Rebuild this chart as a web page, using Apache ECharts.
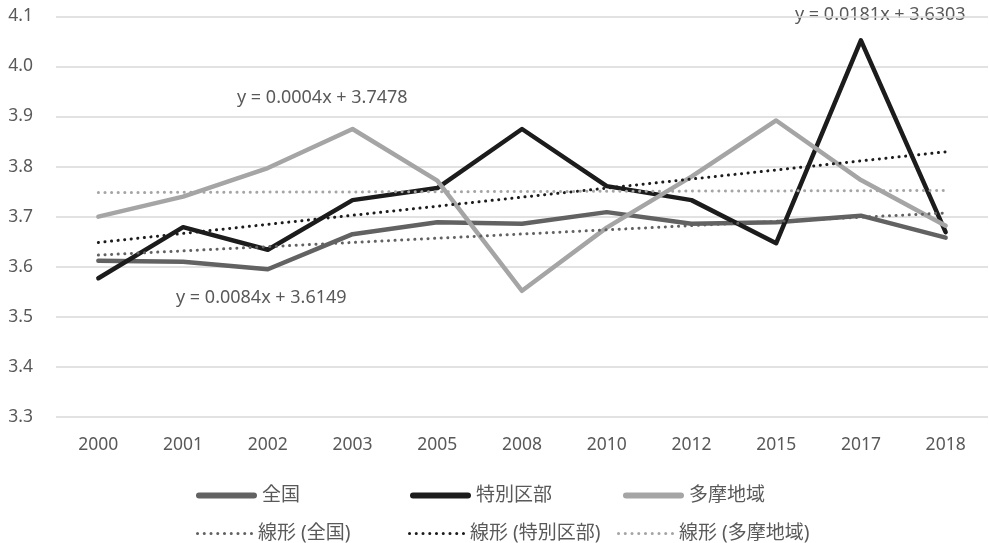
<!DOCTYPE html>
<html>
<head>
<meta charset="utf-8">
<script src="https://cdn.jsdelivr.net/npm/echarts@6/dist/echarts.min.js"></script>
<style>
  html, body { margin: 0; padding: 0; background: #fff; }
  #chart { width: 989px; height: 543px; }
</style>
</head>
<body>
<div id="chart"></div>
<script>
// Survey years (category axis)
const years = ['2000', '2001', '2002', '2003', '2005', '2008', '2010', '2012', '2015', '2017', '2018'];

// Values by region
const zenkoku = [3.612, 3.610, 3.595, 3.665, 3.689, 3.686, 3.709, 3.686, 3.689, 3.702, 3.658];
const tokubetsu = [3.577, 3.679, 3.634, 3.733, 3.757, 3.875, 3.761, 3.733, 3.647, 4.052, 3.669];
const tama = [3.700, 3.740, 3.797, 3.875, 3.772, 3.552, 3.678, 3.780, 3.892, 3.773, 3.682];

// Linear trend coefficients (y = slope * x + intercept, x = 1..n)
const trendSlope = [0.0084, 0.0181, 0.0004];
const trendIntercept = [3.6149, 3.6303, 3.7478];
const trendLabels = ['y = 0.0084x + 3.6149', 'y = 0.0181x + 3.6303', 'y = 0.0004x + 3.7478'];

// Y axis range
const yMin = 3.3, yMax = 4.1, yStep = 0.1;

const names = ['全国', '特別区部', '多摩地域'];
const trendNames = ['線形 (全国)', '線形 (特別区部)', '線形 (多摩地域)'];
const colors = ['#626262', '#1c1c1c', '#a5a5a5'];
const font = "'Noto Sans', 'Noto Sans CJK JP', sans-serif";
const textColor = '#595959';

function trendValues(i) {
  return years.map((_, k) => +(trendSlope[i] * (k + 1) + trendIntercept[i]).toFixed(4));
}

// Legend icons: a thick rounded bar and a row of nine dots
const barIcon = 'path://M3,0 H57 A3,3 0 0 1 57,6 H3 A3,3 0 0 1 3,0 Z';
let dotPath = '';
for (let k = 0; k < 9; k++) {
  const cx = 1.5 + k * 6.6;
  dotPath += 'M' + (cx - 1.5) + ',1.5 A1.5,1.5 0 1 0 ' + (cx + 1.5) + ',1.5 A1.5,1.5 0 1 0 ' + (cx - 1.5) + ',1.5 Z ';
}
const dotIcon = 'path://' + dotPath.trim();

const chart = echarts.init(document.getElementById('chart'), null, { renderer: 'canvas' });

const mainData = [zenkoku, tokubetsu, tama];
const series = [];
mainData.forEach((d, i) => {
  series.push({
    name: names[i], type: 'line', data: d, symbol: 'none', z: 3,
    lineStyle: { color: colors[i], width: 4.5, cap: 'round', join: 'round' },
    itemStyle: { color: colors[i] },
    emphasis: { disabled: true }
  });
});
trendSlope.forEach((_, i) => {
  series.push({
    name: trendNames[i], type: 'line', data: trendValues(i), symbol: 'none', z: 4,
    lineStyle: { color: colors[i], width: 3, type: [0.1, 6.5], cap: 'round' },
    itemStyle: { color: colors[i] },
    emphasis: { disabled: true }
  });
});

function legendAt(name, left, top, dotted) {
  return {
    data: [name], left: left, top: top, orient: 'horizontal',
    icon: dotted ? dotIcon : barIcon,
    itemWidth: dotted ? 57 : 61, itemHeight: 14, itemGap: 0,
    selectedMode: false,
    textStyle: { color: textColor, fontSize: 19, fontFamily: font }
  };
}

const option = {
  animation: false,
  backgroundColor: '#ffffff',
  grid: { left: 56, right: 1, top: 16.3, bottom: 126, containLabel: false },
  xAxis: {
    type: 'category', data: years, boundaryGap: true,
    axisLine: { show: false }, axisTick: { show: false },
    axisLabel: { color: textColor, fontSize: 17.5, fontFamily: font, margin: 19 }
  },
  yAxis: {
    type: 'value', min: yMin, max: yMax, interval: yStep,
    axisLine: { show: false }, axisTick: { show: false },
    axisLabel: { color: textColor, fontSize: 17.5, fontFamily: font, margin: 23,
      formatter: v => v.toFixed(1) },
    splitLine: { lineStyle: { color: '#d9d9d9', width: 1.5 } }
  },
  legend: [
    legendAt(names[0], 191, 481, false),
    legendAt(names[1], 405, 481, false),
    legendAt(names[2], 618, 481, false),
    legendAt(trendNames[0], 191, 519, true),
    legendAt(trendNames[1], 403, 519, true),
    legendAt(trendNames[2], 612, 519, true)
  ],
  graphic: [
    { type: 'text', x: 795, y: 15, style: { text: trendLabels[1], fill: textColor, fontSize: 18, fontFamily: font, verticalAlign: 'middle' } },
    { type: 'text', x: 237, y: 98, style: { text: trendLabels[2], fill: textColor, fontSize: 18, fontFamily: font, verticalAlign: 'middle' } },
    { type: 'text', x: 176, y: 298, style: { text: trendLabels[0], fill: textColor, fontSize: 18, fontFamily: font, verticalAlign: 'middle' } }
  ],
  series: series
};

chart.setOption(option);
</script>
</body>
</html>
